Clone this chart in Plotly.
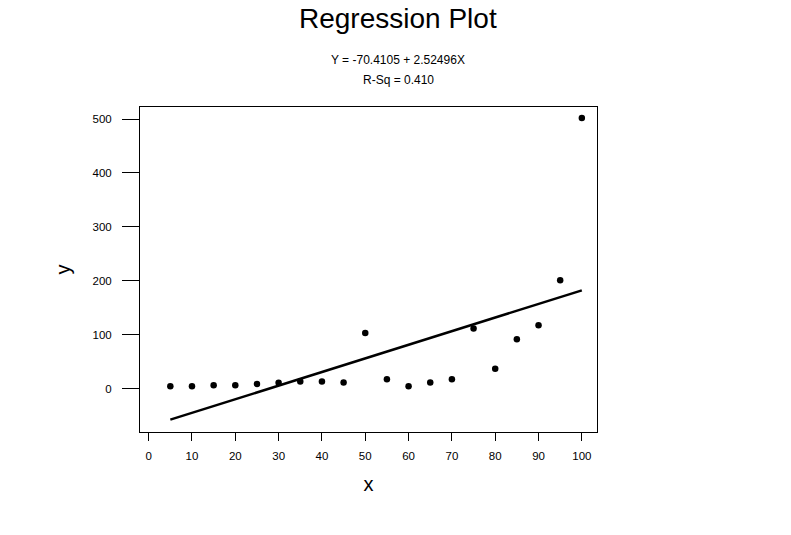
import plotly.graph_objects as go

x_vals = [5, 10, 15, 20, 25, 30, 35, 40, 45, 50, 55, 60, 65, 70, 75, 80, 85, 90, 95, 100]
y_vals = [4, 4, 6, 6, 8.5, 10.5, 13, 13, 11, 103, 17, 4, 11, 17, 111.5, 36.5, 91.5, 117.5, 201, 502]
fit_vals = [-57.8, -45.2, -32.5, -19.9, -7.3, 5.3, 18.0, 30.6, 43.2, 55.8,
            68.5, 81.1, 93.7, 106.3, 119.0, 131.6, 144.2, 156.8, 169.5, 182.1]
x_ticks = [0, 10, 20, 30, 40, 50, 60, 70, 80, 90, 100]
y_ticks = [0, 100, 200, 300, 400, 500]

title_text = "Regression Plot"
eq_text = "Y = -70.4105 + 2.52496X"
rsq_text = "R-Sq = 0.410"

FONT = "Liberation Sans, Arial, sans-serif"

fig = go.Figure()
fig.add_trace(go.Scatter(x=x_vals, y=fit_vals, mode="lines",
                         line=dict(color="black", width=2.5), showlegend=False))
fig.add_trace(go.Scatter(x=x_vals, y=y_vals, mode="markers",
                         marker=dict(color="black", size=6.5), showlegend=False))

fig.update_layout(
    width=791, height=535,
    paper_bgcolor="white", plot_bgcolor="white",
    margin=dict(l=140, r=194, t=107, b=103),
    font=dict(family=FONT, color="black", size=11),
    showlegend=False,
)
fig.update_xaxes(range=[-2.0, 103.5], tickvals=x_ticks, ticks="outside", ticklen=8,
                 tickcolor="black", showline=True, mirror=True, linecolor="black",
                 linewidth=1, showgrid=False, zeroline=False,
                 tickfont=dict(size=11.5, color="black"), ticklabelstandoff=5,
                 title=dict(text="x", font=dict(size=20), standoff=16))
fig.update_yaxes(range=[-80.7, 522.3], tickvals=y_ticks, ticks="outside", ticklen=17,
                 tickcolor="black", showline=True, mirror=True, linecolor="black",
                 linewidth=1, showgrid=False, zeroline=False,
                 tickfont=dict(size=11.5, color="black"), ticklabelstandoff=8,
                 title=dict(text="y", font=dict(size=20), standoff=16))

cx = (398 - 140) / 457
fig.add_annotation(text=title_text, xref="paper", yref="paper",
                   x=cx, y=(432 - 18) / 325,
                   xanchor="center", yanchor="middle", showarrow=False,
                   font=dict(size=28))
fig.add_annotation(text=eq_text, xref="paper", yref="paper",
                   x=cx, y=(432 - 60) / 325,
                   xanchor="center", yanchor="middle", showarrow=False,
                   font=dict(size=12))
fig.add_annotation(text=rsq_text, xref="paper", yref="paper",
                   x=cx, y=(432 - 80) / 325,
                   xanchor="center", yanchor="middle", showarrow=False,
                   font=dict(size=12))

fig.write_html("out.html")
